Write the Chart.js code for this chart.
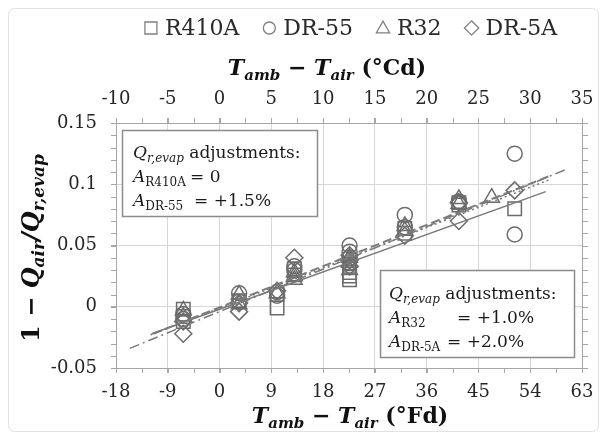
<!DOCTYPE html>
<html lang="en">
<head>
<meta charset="UTF-8">
<title>Qair / Qr,evap vs temperature difference</title>
<script src="https://cdn.jsdelivr.net/npm/chart.js"></script>
<style>
  html, body { margin: 0; padding: 0; background: #ffffff; }
  #wrap { width: 607px; height: 438px; }
</style>
</head>
<body>
<div id="wrap"><canvas id="chart" width="607" height="438"></canvas></div>
<script>
// tick values
const fdTicks = [-18, -9, 0, 9, 18, 27, 36, 45, 54, 63];
const cdTicks = [-10, -5, 0, 5, 10, 15, 20, 25, 30, 35];
const yTicks = [-0.05, 0, 0.05, 0.1, 0.15];
const yTickLabels = ['-0.05', '0', '0.05', '0.1', '0.15'];

// series (x in °Fd, y = 1 - Qair/Qr,evap)
const r410aX = [-6.3, -6.3, -6.3, 3.4, 10, 10, 13, 13, 22.6, 22.6, 22.6, 22.6, 22.6, 32.2, 32.2, 41.6, 41.6, 51.3];
const r410aY = [-0.002, -0.008, -0.012, 0.005, -0.001, 0.010, 0.026, 0.031, 0.022, 0.025, 0.028, 0.032, 0.035, 0.060, 0.064, 0.085, 0.083, 0.080];

const dr55X = [-6.3, -6.3, 3.4, 3.4, 10, 10, 13, 13, 22.6, 22.6, 22.6, 32.2, 32.2, 41.6, 51.3, 51.3];
const dr55Y = [-0.006, -0.010, 0.011, 0.004, 0.012, 0.009, 0.030, 0.033, 0.050, 0.045, 0.040, 0.075, 0.065, 0.086, 0.125, 0.059];

const r32X = [-6.3, -6.3, 3.4, 3.4, 10, 13, 13, 13, 22.6, 22.6, 22.6, 32.2, 32.2, 41.6, 41.6, 47.3];
const r32Y = [-0.003, -0.008, 0.010, 0.002, 0.011, 0.025, 0.022, 0.028, 0.030, 0.036, 0.040, 0.062, 0.066, 0.088, 0.084, 0.089];

const dr5aX = [-6.3, -6.3, 3.4, 3.4, 10, 13, 22.6, 22.6, 22.6, 32.2, 41.6, 41.6, 51.3];
const dr5aY = [-0.022, -0.012, -0.004, 0.003, 0.013, 0.040, 0.038, 0.033, 0.042, 0.058, 0.070, 0.085, 0.095];

// linear trend lines (end points)
const r410aFitX = [-11.8, 56.7], r410aFitY = [-0.022, 0.094];
const dr55FitX = [-11.5, 57.5], dr55FitY = [-0.022, 0.107];
const r32FitX = [-12.0, 57.5], r32FitY = [-0.023, 0.104];
const dr5aFitX = [-15.6, 60.2], dr5aFitY = [-0.034, 0.112];

const seriesNames = ['R410A', 'DR-55', 'R32', 'DR-5A'];

const SERIF = 'DejaVu Serif';
const MARK = '#6c6c6c';

function pts(xs, ys) {
  return xs.map((x, i) => ({ x: x, y: ys[i] }));
}

function scatterSet(label, xs, ys, style, r) {
  return {
    label: label,
    data: pts(xs, ys),
    pointStyle: style,
    pointRadius: r,
    pointBorderWidth: 1.5,
    borderColor: MARK,
    backgroundColor: 'rgba(0,0,0,0)',
    xAxisID: 'x',
    yAxisID: 'y'
  };
}

function fitSet(label, xs, ys, dash, width) {
  return {
    type: 'line',
    label: label,
    data: pts(xs, ys),
    showLine: true,
    pointRadius: 0,
    borderColor: '#7a7a7a',
    borderWidth: width,
    borderDash: dash,
    fill: false,
    xAxisID: 'x',
    yAxisID: 'y'
  };
}

const datasets = [
  fitSet('fit R410A', r410aFitX, r410aFitY, [], 1.5),
  fitSet('fit DR-55', dr55FitX, dr55FitY, [9, 4], 2),
  fitSet('fit R32', r32FitX, r32FitY, [2, 3], 1.5),
  fitSet('fit DR-5A', dr5aFitX, dr5aFitY, [10, 4, 2, 4], 1.5),
  scatterSet(seriesNames[0], r410aX, r410aY, 'rect', 9.5),
  scatterSet(seriesNames[1], dr55X, dr55Y, 'circle', 7.5),
  scatterSet(seriesNames[2], r32X, r32Y, 'triangle', 9),
  scatterSet(seriesNames[3], dr5aX, dr5aY, 'rectRot', 8.5)
];

// rich text helpers (italic / subscript runs)
function runsWidth(ctx, runs) {
  let w = 0;
  runs.forEach(r => { ctx.font = r.f; w += ctx.measureText(r.t).width; });
  return w;
}
function drawRuns(ctx, runs, x, y, center) {
  let cx = center ? x - runsWidth(ctx, runs) / 2 : x;
  runs.forEach(r => {
    ctx.font = r.f;
    ctx.fillText(r.t, cx, y + (r.dy || 0));
    cx += ctx.measureText(r.t).width;
  });
}

function marker(ctx, style, x, y, s) {
  ctx.beginPath();
  if (style === 'rect') {
    ctx.rect(x - s, y - s, 2 * s, 2 * s);
  } else if (style === 'circle') {
    ctx.arc(x, y, s, 0, Math.PI * 2);
  } else if (style === 'triangle') {
    ctx.moveTo(x, y - s * 1.15);
    ctx.lineTo(x + s * 1.1, y + s * 0.8);
    ctx.lineTo(x - s * 1.1, y + s * 0.8);
    ctx.closePath();
  } else {
    ctx.moveTo(x, y - s * 1.2);
    ctx.lineTo(x + s * 1.2, y);
    ctx.lineTo(x, y + s * 1.2);
    ctx.lineTo(x - s * 1.2, y);
    ctx.closePath();
  }
  ctx.stroke();
}

const decor = {
  id: 'decor',
  beforeDraw(chart) {
    const ctx = chart.ctx;
    ctx.save();
    ctx.fillStyle = '#ffffff';
    ctx.fillRect(0, 0, chart.width, chart.height);
    ctx.strokeStyle = '#e2e2e2';
    ctx.lineWidth = 1;
    ctx.beginPath();
    ctx.roundRect(8.5, 8.5, 590, 423, 6);
    ctx.stroke();
    ctx.restore();
  },
  beforeDatasetsDraw(chart) {
    const ctx = chart.ctx;
    const a = chart.chartArea;
    const sx = chart.scales.x, sx2 = chart.scales.x2, sy = chart.scales.y;
    ctx.save();
    ctx.strokeStyle = '#a6a6a6';
    ctx.lineWidth = 1;
    // right frame
    ctx.beginPath();
    ctx.moveTo(a.right + 0.5, a.top);
    ctx.lineTo(a.right + 0.5, a.bottom);
    ctx.stroke();
    // minor ticks
    ctx.beginPath();
    for (let v = -0.05; v <= 0.1501; v += 0.01) {
      const p = Math.round(sy.getPixelForValue(v)) + 0.5;
      ctx.moveTo(a.left - 5, p); ctx.lineTo(a.left, p);
      ctx.moveTo(a.right, p); ctx.lineTo(a.right + 6, p);
    }
    for (let c = -10; c <= 35.01; c += 2.5) {
      const p = Math.round(sx2.getPixelForValue(c)) + 0.5;
      ctx.moveTo(p, a.top - 5); ctx.lineTo(p, a.top);
    }
    for (let f = -18; f <= 63.01; f += 4.5) {
      const p = Math.round(sx.getPixelForValue(f)) + 0.5;
      ctx.moveTo(p, a.bottom); ctx.lineTo(p, a.bottom + 5);
    }
    ctx.stroke();

    // adjustment boxes
    const boxes = [
      { x: 122.5, y: 130.5, w: 195, h: 86, tx: 133, base: 158,
        rows: [['R410A', '= 0', 190], ['DR-55', '= +1.5%', 194]] },
      { x: 380.5, y: 270.5, w: 194, h: 87, tx: 389, base: 299,
        rows: [['R32', '= +1.0%', 457], ['DR-5A', '= +2.0%', 447]] }
    ];
    const it = 'italic 17px "' + SERIF + '"';
    const itSub = 'italic 12px "' + SERIF + '"';
    const nm = '17px "' + SERIF + '"';
    const sub = '12px "' + SERIF + '"';
    boxes.forEach(b => {
      ctx.fillStyle = '#ffffff';
      ctx.fillRect(b.x, b.y, b.w, b.h);
      ctx.strokeStyle = '#8c8c8c';
      ctx.lineWidth = 1.5;
      ctx.strokeRect(b.x, b.y, b.w, b.h);
      ctx.fillStyle = '#1a1a1a';
      ctx.textBaseline = 'alphabetic';
      drawRuns(ctx, [
        { t: 'Q', f: it },
        { t: 'r,evap', f: itSub, dy: 4 },
        { t: ' adjustments:', f: nm }
      ], b.tx, b.base, false);
      b.rows.forEach((r, i) => {
        const y = b.base + 24 * (i + 1);
        drawRuns(ctx, [{ t: 'A', f: it }, { t: r[0], f: sub, dy: 4 }], b.tx, y, false);
        ctx.font = nm;
        ctx.fillText(r[1], r[2], y);
      });
    });
    ctx.restore();
  },
  afterDraw(chart) {
    const ctx = chart.ctx;
    ctx.save();
    ctx.fillStyle = '#111111';
    ctx.textBaseline = 'alphabetic';
    const B = 'bold 22px "' + SERIF + '"';
    const BI = 'bold italic 22px "' + SERIF + '"';
    const BIs = 'bold italic 15px "' + SERIF + '"';
    const title = unit => [
      { t: 'T', f: BI }, { t: 'amb', f: BIs, dy: 5 },
      { t: ' \u2212 ', f: B },
      { t: 'T', f: BI }, { t: 'air', f: BIs, dy: 5 },
      { t: ' (\u00b0' + unit + ')', f: B }
    ];
    drawRuns(ctx, title('Cd'), 327, 75, true);
    drawRuns(ctx, title('Fd'), 350, 423, true);

    const YB = 'bold 24px "' + SERIF + '"';
    const YBI = 'bold italic 24px "' + SERIF + '"';
    const YBIs = 'bold italic 17px "' + SERIF + '"';
    ctx.save();
    ctx.translate(39, 248);
    ctx.rotate(-Math.PI / 2);
    drawRuns(ctx, [
      { t: '1 \u2212 ', f: YB },
      { t: 'Q', f: YBI }, { t: 'air', f: YBIs, dy: 5 },
      { t: '/', f: YBI },
      { t: 'Q', f: YBI }, { t: 'r,evap', f: YBIs, dy: 5 }
    ], 0, 0, true);
    ctx.restore();

    // legend
    const styles = ['rect', 'circle', 'triangle', 'rectRot'];
    const LF = '22px "' + SERIF + '"';
    ctx.font = LF;
    let total = 0;
    seriesNames.forEach((n, i) => {
      total += 20 + ctx.measureText(n).width + (i < seriesNames.length - 1 ? 24 : 0);
    });
    let x = 351 - total / 2;
    const ly = 35;
    seriesNames.forEach((n, i) => {
      ctx.strokeStyle = '#808080';
      ctx.lineWidth = 1.3;
      marker(ctx, styles[i], x + 6, ly - 7, 6);
      ctx.fillStyle = '#2a2a2a';
      ctx.font = LF;
      ctx.fillText(n, x + 20, ly);
      x += 20 + ctx.measureText(n).width + 24;
    });
    ctx.restore();
  }
};

const tickFont = { family: SERIF, size: 18 };
const tickColor = '#262626';
const gridColor = '#d6d6d6';
const frameColor = '#a6a6a6';

new Chart(document.getElementById('chart').getContext('2d'), {
  type: 'scatter',
  data: { datasets: datasets },
  options: {
    responsive: false,
    animation: false,
    layout: { padding: { top: 0, right: 25, bottom: 0, left: 0 } },
    plugins: {
      legend: { display: false },
      tooltip: { enabled: false }
    },
    scales: {
      x: {
        type: 'linear',
        position: 'bottom',
        min: -18,
        max: 63,
        afterBuildTicks: s => { s.ticks = fdTicks.map(v => ({ value: v })); },
        afterFit: s => { s.height = 70; },
        ticks: { font: tickFont, color: tickColor, padding: 9, maxRotation: 0, autoSkip: false },
        grid: { color: gridColor, tickColor: frameColor, tickLength: 5 },
        border: { color: frameColor, width: 1 }
      },
      x2: {
        type: 'linear',
        position: 'top',
        min: -10,
        max: 35,
        afterBuildTicks: s => { s.ticks = cdTicks.map(v => ({ value: v })); },
        afterFit: s => { s.height = 123; },
        ticks: { font: tickFont, color: tickColor, padding: 8, maxRotation: 0, autoSkip: false },
        grid: { drawOnChartArea: false, tickColor: frameColor, tickLength: 5 },
        border: { color: frameColor, width: 1 }
      },
      y: {
        type: 'linear',
        position: 'left',
        min: -0.05,
        max: 0.15,
        afterBuildTicks: s => { s.ticks = yTicks.map(v => ({ value: v })); },
        afterFit: s => { s.width = 116; },
        ticks: {
          font: tickFont,
          color: tickColor,
          padding: 14,
          callback: (v, i) => yTickLabels[i]
        },
        grid: { color: gridColor, tickColor: frameColor, tickLength: 5 },
        border: { color: frameColor, width: 1 }
      }
    }
  },
  plugins: [decor]
});
</script>
</body>
</html>
